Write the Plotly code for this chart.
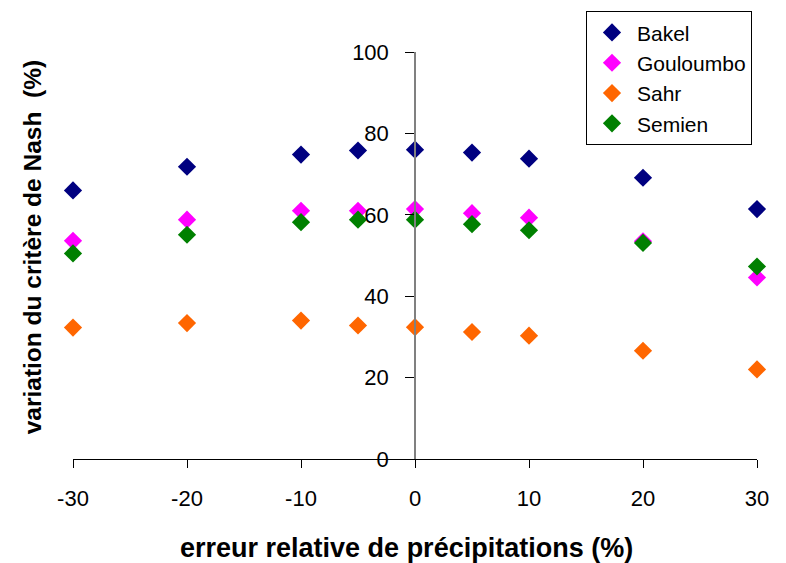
import plotly.graph_objects as go

x_err = [-30, -20, -10, -5, 0, 5, 10, 20, 30]
bakel = [66, 71.8, 74.8, 75.8, 76, 75.3, 73.8, 69.1, 61.4]
gouloumbo = [53.6, 58.8, 61, 61, 61.4, 60.4, 59.3, 53.5, 44.6]
sahr = [32.3, 33.4, 34, 32.8, 32.4, 31.2, 30.3, 26.6, 22]
semien = [50.5, 55.1, 58.2, 58.8, 58.8, 57.7, 56.2, 53.1, 47.3]

series = [
    ("Bakel", bakel, "#000080"),
    ("Gouloumbo", gouloumbo, "#FF00FF"),
    ("Sahr", sahr, "#FF6600"),
    ("Semien", semien, "#008000"),
]

x_ticks = [-30, -20, -10, 0, 10, 20, 30]
y_ticks = [0, 20, 40, 60, 80, 100]

FONT = "Liberation Sans, Arial, sans-serif"

fig = go.Figure()
for name, vals, col in series:
    fig.add_trace(go.Scatter(
        x=x_err, y=vals, name=name, mode="markers",
        marker=dict(symbol="diamond", size=14, color=col, line=dict(width=0)),
        cliponaxis=False,
    ))

fig.update_layout(
    width=786, height=563,
    margin=dict(l=73, r=29, t=52, b=104, autoexpand=False),
    paper_bgcolor="white", plot_bgcolor="white",
    font=dict(family=FONT, size=22, color="black"),
    showlegend=True,
    legend=dict(
        x=0.75, y=1.1, xanchor="left", yanchor="top",
        bordercolor="black", borderwidth=1,
        font=dict(size=21, family=FONT),
        tracegroupgap=0, itemsizing="trace", itemwidth=40,
        bgcolor="white",
    ),
    xaxis=dict(
        range=[-30, 30], tickvals=x_ticks, ticktext=[str(v) for v in x_ticks],
        showgrid=False, zeroline=False, showline=True, linecolor="black", linewidth=1,
        ticks="outside", ticklen=8, tickcolor="black",
        ticklabelstandoff=12,
        tickfont=dict(size=22),
    ),
    yaxis=dict(
        range=[0, 100], tickvals=y_ticks, ticktext=[str(v) for v in y_ticks],
        showgrid=False, zeroline=False, showline=True, linecolor="#808080", linewidth=1.5,
        ticks="outside", ticklen=9, tickcolor="black",
        anchor="free", position=0.5,
        ticklabelstandoff=12,
        tickfont=dict(size=22),
    ),
    annotations=[
        dict(text="<b>erreur relative de précipitations (%)</b>", xref="paper", yref="paper",
             x=0.487, y=-0.218, xanchor="center", yanchor="middle", showarrow=False,
             font=dict(size=27, family=FONT)),
        dict(text="<b>variation du critère de Nash  (%)</b>", xref="paper", yref="paper",
             x=-0.06, y=0.52, xanchor="center", yanchor="middle", showarrow=False,
             textangle=-90, font=dict(size=24.5, family=FONT)),
    ],
)

fig.write_html("out.html", config={"displayModeBar": False},
               post_script="document.body.style.margin='0';")
